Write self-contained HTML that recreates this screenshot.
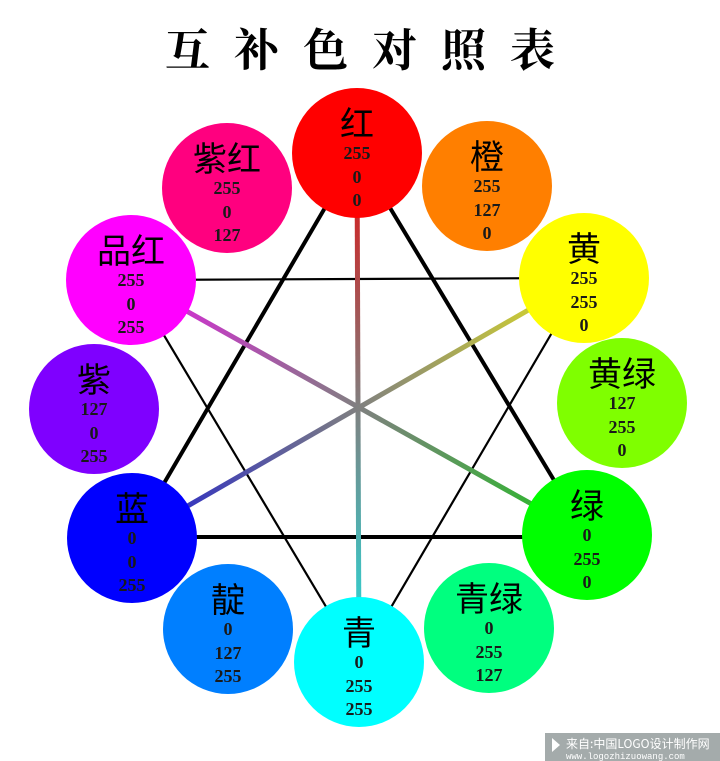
<!DOCTYPE html>
<html><head><meta charset="utf-8"><style>
html,body{margin:0;padding:0;background:#fff;}
body{width:720px;height:761px;overflow:hidden;position:relative;}
svg{position:absolute;left:0;top:0;}
</style></head><body>
<svg width="720" height="761" viewBox="0 0 720 761" xmlns="http://www.w3.org/2000/svg">
<defs>
<linearGradient id="g1" gradientUnits="userSpaceOnUse" x1="357" y1="153" x2="359" y2="662"><stop offset="0" stop-color="#e01010"/><stop offset="0.5" stop-color="#808080"/><stop offset="1" stop-color="#20e0e0"/></linearGradient>
<linearGradient id="g2" gradientUnits="userSpaceOnUse" x1="131" y1="280" x2="587" y2="535"><stop offset="0" stop-color="#e020e0"/><stop offset="0.5" stop-color="#808080"/><stop offset="1" stop-color="#20c020"/></linearGradient>
<linearGradient id="g3" gradientUnits="userSpaceOnUse" x1="584" y1="278" x2="132" y2="538"><stop offset="0" stop-color="#e0e020"/><stop offset="0.5" stop-color="#808080"/><stop offset="1" stop-color="#2020d0"/></linearGradient>
</defs>
<text x="372" y="66" text-anchor="middle" font-family="Noto Serif CJK SC, serif" font-weight="bold" font-size="45" letter-spacing="24" fill="#000">互补色对照表</text>
<g stroke="#000" stroke-width="2.2" fill="none">
<line x1="131" y1="280" x2="584" y2="278"/>
<line x1="131" y1="280" x2="359" y2="662"/>
<line x1="584" y1="278" x2="359" y2="662"/>
</g>
<g stroke="#000" stroke-width="4" fill="none">
<line x1="357" y1="153" x2="587" y2="535"/>
<line x1="357" y1="153" x2="132" y2="538"/>
<line x1="132" y1="537" x2="587" y2="537"/>
</g>
<line x1="357" y1="153" x2="359" y2="662" stroke="url(#g1)" stroke-width="5"/>
<line x1="131" y1="280" x2="587" y2="535" stroke="url(#g2)" stroke-width="5"/>
<line x1="584" y1="278" x2="132" y2="538" stroke="url(#g3)" stroke-width="5"/>
<g font-family="Liberation Serif, serif" font-weight="bold" text-anchor="middle" fill="#1a1a1a">
<g><circle cx="357" cy="153" r="65" fill="#ff0000"/><text x="357" y="136" font-family="Noto Sans CJK SC, sans-serif" font-weight="normal" font-size="34" fill="#000">红</text><text x="357" y="159" font-size="18">255</text><text x="357" y="183" font-size="18">0</text><text x="357" y="206" font-size="18">0</text></g>
<g><circle cx="487" cy="186" r="65" fill="#ff7f00"/><text x="487" y="169" font-family="Noto Sans CJK SC, sans-serif" font-weight="normal" font-size="34" fill="#000">橙</text><text x="487" y="192" font-size="18">255</text><text x="487" y="216" font-size="18">127</text><text x="487" y="239" font-size="18">0</text></g>
<g><circle cx="584" cy="278" r="65" fill="#ffff00"/><text x="584" y="261" font-family="Noto Sans CJK SC, sans-serif" font-weight="normal" font-size="34" fill="#000">黄</text><text x="584" y="284" font-size="18">255</text><text x="584" y="308" font-size="18">255</text><text x="584" y="331" font-size="18">0</text></g>
<g><circle cx="622" cy="403" r="65" fill="#7fff00"/><text x="622" y="386" font-family="Noto Sans CJK SC, sans-serif" font-weight="normal" font-size="34" fill="#000">黄绿</text><text x="622" y="409" font-size="18">127</text><text x="622" y="433" font-size="18">255</text><text x="622" y="456" font-size="18">0</text></g>
<g><circle cx="587" cy="535" r="65" fill="#00ff00"/><text x="587" y="518" font-family="Noto Sans CJK SC, sans-serif" font-weight="normal" font-size="34" fill="#000">绿</text><text x="587" y="541" font-size="18">0</text><text x="587" y="565" font-size="18">255</text><text x="587" y="588" font-size="18">0</text></g>
<g><circle cx="489" cy="628" r="65" fill="#00ff7f"/><text x="489" y="611" font-family="Noto Sans CJK SC, sans-serif" font-weight="normal" font-size="34" fill="#000">青绿</text><text x="489" y="634" font-size="18">0</text><text x="489" y="658" font-size="18">255</text><text x="489" y="681" font-size="18">127</text></g>
<g><circle cx="359" cy="662" r="65" fill="#00ffff"/><text x="359" y="645" font-family="Noto Sans CJK SC, sans-serif" font-weight="normal" font-size="34" fill="#000">青</text><text x="359" y="668" font-size="18">0</text><text x="359" y="692" font-size="18">255</text><text x="359" y="715" font-size="18">255</text></g>
<g><circle cx="228" cy="629" r="65" fill="#007fff"/><text x="228" y="612" font-family="Noto Sans CJK SC, sans-serif" font-weight="normal" font-size="34" fill="#000">靛</text><text x="228" y="635" font-size="18">0</text><text x="228" y="659" font-size="18">127</text><text x="228" y="682" font-size="18">255</text></g>
<g><circle cx="132" cy="538" r="65" fill="#0000ff"/><text x="132" y="521" font-family="Noto Sans CJK SC, sans-serif" font-weight="normal" font-size="34" fill="#000">蓝</text><text x="132" y="544" font-size="18">0</text><text x="132" y="568" font-size="18">0</text><text x="132" y="591" font-size="18">255</text></g>
<g><circle cx="94" cy="409" r="65" fill="#7f00ff"/><text x="94" y="392" font-family="Noto Sans CJK SC, sans-serif" font-weight="normal" font-size="34" fill="#000">紫</text><text x="94" y="415" font-size="18">127</text><text x="94" y="439" font-size="18">0</text><text x="94" y="462" font-size="18">255</text></g>
<g><circle cx="131" cy="280" r="65" fill="#ff00ff"/><text x="131" y="263" font-family="Noto Sans CJK SC, sans-serif" font-weight="normal" font-size="34" fill="#000">品红</text><text x="131" y="286" font-size="18">255</text><text x="131" y="310" font-size="18">0</text><text x="131" y="333" font-size="18">255</text></g>
<g><circle cx="227" cy="188" r="65" fill="#ff007f"/><text x="227" y="171" font-family="Noto Sans CJK SC, sans-serif" font-weight="normal" font-size="34" fill="#000">紫红</text><text x="227" y="194" font-size="18">255</text><text x="227" y="218" font-size="18">0</text><text x="227" y="241" font-size="18">127</text></g>
</g>
<rect x="545" y="733" width="175" height="28" fill="#a4abab"/>
<polygon points="552,738 560,745 552,752" fill="#fff"/>
<text x="566" y="748" font-family="Noto Sans CJK SC, sans-serif" font-size="12" fill="#fff">来自:中国LOGO设计制作网</text>
<text x="566" y="759" font-family="Liberation Mono, monospace" font-size="9" fill="#fff">www.logozhizuowang.com</text>
</svg>
</body></html>
